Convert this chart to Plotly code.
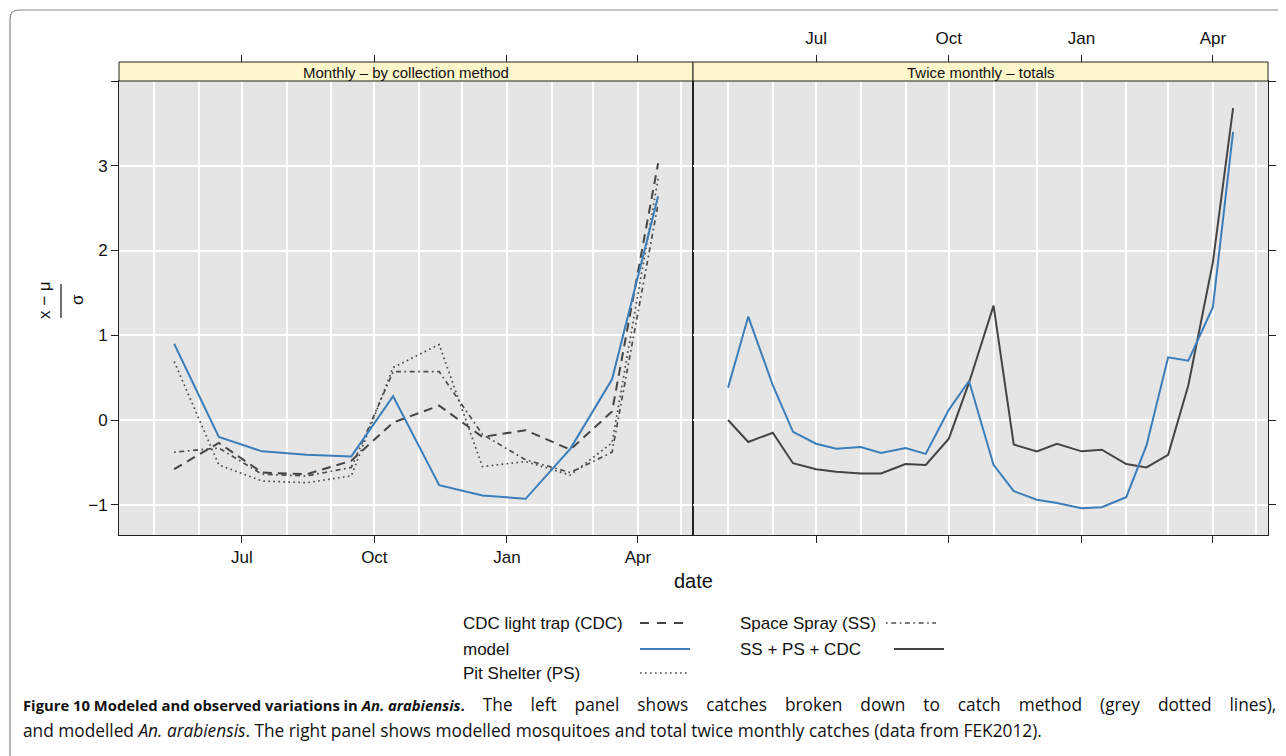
import plotly.graph_objects as go

OFF = 8                      # browser body margin
W, H = 1286 - OFF, 756 - OFF

# ---------------- data ----------------
month_dates = ["2011-05-15", "2011-06-15", "2011-07-15", "2011-08-15", "2011-09-15",
               "2011-10-14", "2011-11-15", "2011-12-15", "2012-01-14", "2012-02-14",
               "2012-03-14", "2012-04-15"]
model_monthly = [0.90, -0.20, -0.37, -0.41, -0.43, 0.28, -0.77, -0.89, -0.93, -0.34, 0.48, 2.64]
cdc_monthly = [-0.58, -0.27, -0.62, -0.64, -0.48, -0.03, 0.17, -0.20, -0.12, -0.35, 0.10, 3.03]
ps_monthly = [0.69, -0.53, -0.72, -0.74, -0.66, 0.62, 0.89, -0.55, -0.49, -0.65, -0.27, 2.85]
ss_monthly = [-0.38, -0.33, -0.64, -0.66, -0.56, 0.57, 0.57, -0.17, -0.47, -0.62, -0.38, 2.55]

half_dates = ["2011-05-01", "2011-05-15", "2011-06-01", "2011-06-15", "2011-07-01", "2011-07-15",
              "2011-08-01", "2011-08-15", "2011-09-01", "2011-09-15", "2011-10-01", "2011-10-15",
              "2011-11-01", "2011-11-15", "2011-12-01", "2011-12-15", "2012-01-01", "2012-01-15",
              "2012-02-01", "2012-02-15", "2012-03-01", "2012-03-15", "2012-04-01", "2012-04-15"]
model_twice = [0.38, 1.22, 0.41, -0.14, -0.28, -0.34, -0.32, -0.39, -0.33, -0.40, 0.12, 0.46,
               -0.53, -0.84, -0.94, -0.98, -1.04, -1.03, -0.91, -0.30, 0.74, 0.70, 1.33, 3.40]
total_twice = [0.00, -0.26, -0.15, -0.51, -0.58, -0.61, -0.63, -0.63, -0.52, -0.53, -0.22, 0.44,
               1.35, -0.29, -0.37, -0.28, -0.37, -0.35, -0.52, -0.56, -0.41, 0.41, 1.86, 3.68]

quarter_ticks = ["2011-07-01", "2011-10-01", "2012-01-01", "2012-04-01"]
quarter_labels = ["Jul", "Oct", "Jan", "Apr"]
grid_months = ["2011-05-01", "2011-06-01", "2011-07-01", "2011-08-01", "2011-09-01",
               "2011-10-01", "2011-11-01", "2011-12-01", "2012-01-01", "2012-02-01",
               "2012-03-01", "2012-04-01", "2012-05-01"]
y_ticks = [-1, 0, 1, 2, 3, 4]
y_labels = ["\u22121", "0", "1", "2", "3", ""]

x_range = ["2011-04-06 17:00", "2012-05-09 05:00"]
y_range = [-1.357, 4.0]

# ---------------- styles ----------------
BLUE = "#3B7EBA"
DARK = "#444444"
DOTC = "#4d4d4d"
FONT = "Liberation Sans, Arial, sans-serif"
styles = {
    "cdc": dict(color=DARK, width=2, dash="9px,6px"),
    "model": dict(color=BLUE, width=2),
    "ps": dict(color=DOTC, width=1.7, dash="1.7px,3.3px"),
    "ss": dict(color=DOTC, width=1.7, dash="1.7px,3.5px,5px,3.5px"),
    "total": dict(color=DARK, width=2),
}


def fx(px):
    return (px - OFF) / W


def fy(py):
    return 1 - (py - OFF) / H


L0, L1, R1 = 119, 693, 1268
T0, B0 = 81, 535
ST = 62

fig = go.Figure()
fig.add_trace(go.Scatter(x=month_dates, y=ps_monthly, mode="lines", line=styles["ps"], xaxis="x", yaxis="y"))
fig.add_trace(go.Scatter(x=month_dates, y=ss_monthly, mode="lines", line=styles["ss"], xaxis="x", yaxis="y"))
fig.add_trace(go.Scatter(x=month_dates, y=cdc_monthly, mode="lines", line=styles["cdc"], xaxis="x", yaxis="y"))
fig.add_trace(go.Scatter(x=month_dates, y=model_monthly, mode="lines", line=styles["model"], xaxis="x", yaxis="y"))
fig.add_trace(go.Scatter(x=half_dates, y=total_twice, mode="lines", line=styles["total"], xaxis="x2", yaxis="y2"))
fig.add_trace(go.Scatter(x=half_dates, y=model_twice, mode="lines", line=styles["model"], xaxis="x2", yaxis="y2"))
# invisible traces to carry overlay axes
fig.add_trace(go.Scatter(x=[x_range[0]], y=[None], mode="lines", xaxis="x3", yaxis="y", hoverinfo="skip"))
fig.add_trace(go.Scatter(x=[x_range[0]], y=[None], mode="lines", xaxis="x4", yaxis="y3", hoverinfo="skip"))

tickfont = dict(family=FONT, size=17, color="#111")
AXC = "#222222"

common_x = dict(type="date", range=x_range, tickvals=quarter_ticks, ticktext=quarter_labels,
                ticks="outside", ticklen=7, tickwidth=1, tickcolor=AXC,
                showgrid=True, gridcolor="white", gridwidth=1.6,
                minor=dict(tickvals=grid_months, showgrid=True, gridcolor="white", gridwidth=1.6, ticks=""),
                showline=True, linecolor=AXC, linewidth=1, mirror=True,
                zeroline=False, tickfont=tickfont)

fig.update_layout(
    width=W, height=H,
    margin=dict(l=0, r=0, t=0, b=0),
    paper_bgcolor="white", plot_bgcolor="#E5E5E5",
    showlegend=False,
    xaxis=dict(domain=[fx(L0), fx(L1)], anchor="y", showticklabels=True, **common_x),
    xaxis2=dict(domain=[fx(L1), fx(R1)], anchor="y2", showticklabels=False, **common_x),
    xaxis3=dict(type="date", range=x_range, tickvals=quarter_ticks, ticktext=quarter_labels,
                overlaying="x", side="top", anchor="free", position=fy(ST),
                ticks="outside", ticklen=7, tickwidth=1, tickcolor=AXC,
                showticklabels=False, showgrid=False, showline=False, zeroline=False),
    xaxis4=dict(type="date", range=x_range, tickvals=quarter_ticks, ticktext=quarter_labels,
                overlaying="x2", side="top", anchor="free", position=fy(ST),
                ticks="outside", ticklen=7, tickwidth=1, tickcolor=AXC, ticklabelstandoff=4,
                showticklabels=True, tickfont=tickfont, showgrid=False, showline=False, zeroline=False),
    yaxis=dict(domain=[fy(B0), fy(T0)], anchor="x", range=y_range, tickvals=y_ticks, ticktext=y_labels,
               ticks="outside", ticklen=7, tickwidth=1, tickcolor=AXC,
               showgrid=True, gridcolor="white", gridwidth=1.6,
               showline=True, linecolor=AXC, linewidth=1, mirror=True, zeroline=False, tickfont=tickfont),
    yaxis2=dict(domain=[fy(B0), fy(T0)], anchor="x2", range=y_range, tickvals=y_ticks,
                ticks="", showticklabels=False,
                showgrid=True, gridcolor="white", gridwidth=1.6,
                showline=True, linecolor=AXC, linewidth=1, mirror=True, zeroline=False),
    yaxis3=dict(overlaying="y2", side="right", anchor="x2", range=y_range, tickvals=y_ticks,
                ticks="outside", ticklen=7, tickwidth=1, tickcolor=AXC, showticklabels=False,
                showgrid=False, showline=False, zeroline=False),
)

shapes = []
# outer rounded frame
r = 9
path = (f"M {fx(1300)},{fy(10)} L {fx(10 + r)},{fy(10)} Q {fx(10)},{fy(10)} {fx(10)},{fy(10 + r)} "
        f"L {fx(10)},{fy(770)}")
shapes.append(dict(type="path", xref="paper", yref="paper", path=path,
                   line=dict(color="#8a8a8a", width=1.2)))
# strips
for a, b in [(L0, L1), (L1, R1)]:
    shapes.append(dict(type="rect", xref="paper", yref="paper", x0=fx(a), x1=fx(b), y0=fy(T0), y1=fy(ST),
                       fillcolor="#FFF7CC", line=dict(color=AXC, width=1), layer="above"))
# y-axis title fraction bar
shapes.append(dict(type="line", xref="paper", yref="paper", x0=fx(61), x1=fx(61), y0=fy(284), y1=fy(318),
                   line=dict(color="#111", width=1.2)))


def ann(x, y, text, size, xanchor="center", family=FONT, **kw):
    return dict(x=fx(x), y=fy(y), xref="paper", yref="paper", text=text, showarrow=False,
                xanchor=xanchor, yanchor="middle", font=dict(family=family, size=size, color="#111"), **kw)


annotations = [
    ann((L0 + L1) / 2, (ST + T0) / 2 + 0.5, "Monthly \u2013 by collection method", 15),
    ann((L1 + R1) / 2, (ST + T0) / 2 + 0.5, "Twice monthly \u2013 totals", 15),
    ann(693, 581, "date", 20),
    ann(44, 300, "x \u2212 \u03bc", 17, textangle=-90),
    ann(77, 300, "\u03c3", 17, textangle=-90),
]

# legend (text left, sample right)
legend_items = [
    ("CDC light trap (CDC)", "cdc", 461, 623, 640, 684),
    ("model", "model", 461, 649, 640, 690),
    ("Pit Shelter (PS)", "ps", 461, 673, 640, 690),
    ("Space Spray (SS)", "ss", 738, 623, 886, 936),
    ("SS + PS + CDC", "total", 738, 649, 894, 944),
]
for label, key, tx, ty, sx0, sx1 in legend_items:
    annotations.append(ann(tx, ty, label, 17, xanchor="left"))
    st = dict(styles[key])
    if key == "cdc":
        st["dash"] = "9px,8px"
    shapes.append(dict(type="line", xref="paper", yref="paper", x0=fx(sx0), x1=fx(sx1), y0=fy(ty), y1=fy(ty),
                       line=st))

# caption (first line justified with extra word spacing)
CAPFONT = "Open Sans, sans-serif"
GAP = " " + "\u00a0" * 3
cap_bold = "Figure 10 Modeled and observed variations in <i>An. arabiensis</i>."
cap_line1 = "The left panel shows catches broken down to catch method (grey dotted lines),"
cap_line2 = ("and modelled <i>An. arabiensis</i>. The right panel shows modelled mosquitoes and "
             "total twice monthly catches (data from FEK2012).")
line1 = ("<span style='font-size:14.8px'><b>" + cap_bold + "</b></span>" + GAP
         + GAP.join(cap_line1.split(" ")))
annotations.append(ann(21, 704, line1, 17.3, xanchor="left", family=CAPFONT))
annotations.append(ann(21, 730, cap_line2, 17.3, xanchor="left", family=CAPFONT))

fig.update_layout(shapes=shapes, annotations=annotations)
fig.write_html("out.html")
